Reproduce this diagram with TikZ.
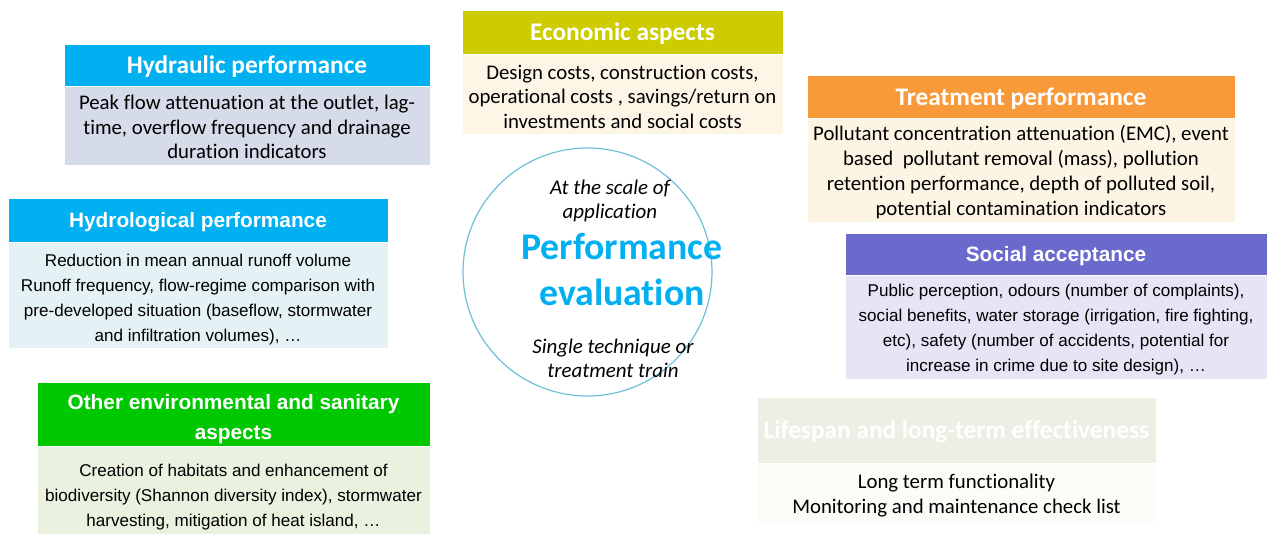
\documentclass[tikz,border=0pt]{standalone}
\usepackage{fontspec}
\setmainfont[Ligatures=NoCommon]{Carlito}
\newfontfamily\arialf{Liberation Sans}
\usetikzlibrary{shapes.geometric}
\definecolor{cyanh}{HTML}{00B0F0}
\definecolor{hydrbody}{HTML}{D6DBEA}
\definecolor{econh}{HTML}{CCCC00}
\definecolor{econb}{HTML}{FDF6E7}
\definecolor{treath}{HTML}{F89A3A}
\definecolor{treatb}{HTML}{FDF5E3}
\definecolor{hydlb}{HTML}{E5F2F5}
\definecolor{soch}{HTML}{6A6ACD}
\definecolor{socb}{HTML}{E5E5F5}
\definecolor{envh}{HTML}{00C800}
\definecolor{envb}{HTML}{EBF1DF}
\definecolor{lifeh}{HTML}{EFEEE5}
\definecolor{lifeb}{HTML}{FBFBF7}
\definecolor{ringc}{HTML}{6FBFDA}
\begin{document}
\begin{tikzpicture}[x=0.75pt,y=-0.75pt,
  sz/.style 2 args={minimum width=#1*0.75pt, minimum height=#2*0.75pt},
  panel/.style={anchor=north west, inner sep=0pt, outer sep=0pt, align=center, draw=white, line width=0.6pt},
  hC/.style={panel, text=white, text depth=0pt, font=\fontsize{19}{23}\selectfont\bfseries},
  hA/.style={panel, text=white, font=\arialf\fontsize{15.6}{22.5}\selectfont\bfseries},
  hAs/.style={hA, text depth=0pt},
  bC/.style={panel, text=black, font=\fontsize{15.6}{18.6}\selectfont},
  bA/.style={panel, text=black, font=\arialf\fontsize{12.8}{18.75}\selectfont},
  itxt/.style={align=center, inner sep=0pt, font=\fontsize{15.7}{18}\selectfont\itshape},
  btxt/.style={align=center, inner sep=0pt, text=cyanh, font=\fontsize{28.3}{34.5}\selectfont\bfseries}
]
\useasboundingbox (0,0) rectangle (1268,534);
\fill[white] (0,0) rectangle (1268,534);

% Hydraulic performance
\node[hC, sz={366}{42}, fill=cyanh] (hydrh) at (64,44) {Hydraulic performance};
\node[bC, sz={366}{79}, fill=hydrbody] (hydrb) at (64,86) {\rule{0pt}{13pt}Peak flow attenuation at the outlet, lag-\\time, overflow frequency and drainage\\duration indicators};

% Economic aspects
\node[hC, sz={321}{44}, fill=econh] (econh) at (462,10) {Economic aspects};
\node[bC, sz={321}{80}, fill=econb] (econb) at (462,54) {\rule{0pt}{15pt}Design costs, construction costs,\\operational costs , savings/return on\\investments and social costs};

% Treatment performance
\node[hC, sz={428}{43}, fill=treath] (treath) at (807,75) {Treatment performance};
\node[bC, sz={428}{104}, fill=treatb] (treatb) at (807,118) {\rule{0pt}{14.7pt}Pollutant concentration attenuation (EMC), event\\based\ \ pollutant removal (mass), pollution\\retention performance, depth of polluted soil,\\potential contamination indicators};

% Hydrological performance
\node[hAs, sz={380}{44}, fill=cyanh] (hydlh) at (8,198) {Hydrological performance};
\node[bA, sz={380}{106}, fill=hydlb] (hydlb) at (8,242) {\rule{0pt}{16.8pt}Reduction in mean annual runoff volume\\Runoff frequency, flow-regime comparison with\\pre-developed situation (baseflow, stormwater\\and infiltration volumes), \dots};

% Social acceptance
\node[hAs, sz={422}{42}, fill=soch] (soch) at (845,233) {Social acceptance};
\node[bA, sz={422}{104}, fill=socb] (socb) at (845,275) {\rule{0pt}{13pt}Public perception, odours (number of complaints),\\social benefits, water storage (irrigation, fire fighting,\\etc), safety (number of accidents, potential for\\increase in crime due to site design), \dots};

% Other environmental and sanitary aspects
\node[hA, sz={393}{64}, fill=envh] (envh) at (37,382) {\rule{0pt}{19pt}Other environmental and sanitary\\aspects};
\node[bA, sz={393}{88}, fill=envb] (envb) at (37,446) {\rule{0pt}{20.5pt}Creation of habitats and enhancement of\\biodiversity (Shannon diversity index), stormwater\\harvesting, mitigation of heat island, \dots};

% Lifespan
\node[hC, sz={399}{66}, fill=lifeh] (lifeh) at (757,397) {Lifespan and long-term effectiveness};
\node[bC, sz={399}{59}, fill=lifeb] (lifeb) at (757,463) {\rule{0pt}{16pt}Long term functionality\\Monitoring and maintenance check list};

% Centre
\node[ellipse, draw=ringc, line width=0.9pt, fill=white, inner sep=0pt, sz={249}{248}] (centre) at (587.5,272) {};
\node[itxt] (scale) at (610,201) {At the scale of\\application};
\node[btxt] (perf) at (622,270) {Performance\\evaluation};
\node[itxt] (single) at (613,358) {Single technique or\\treatment train};
\end{tikzpicture}
\end{document}
